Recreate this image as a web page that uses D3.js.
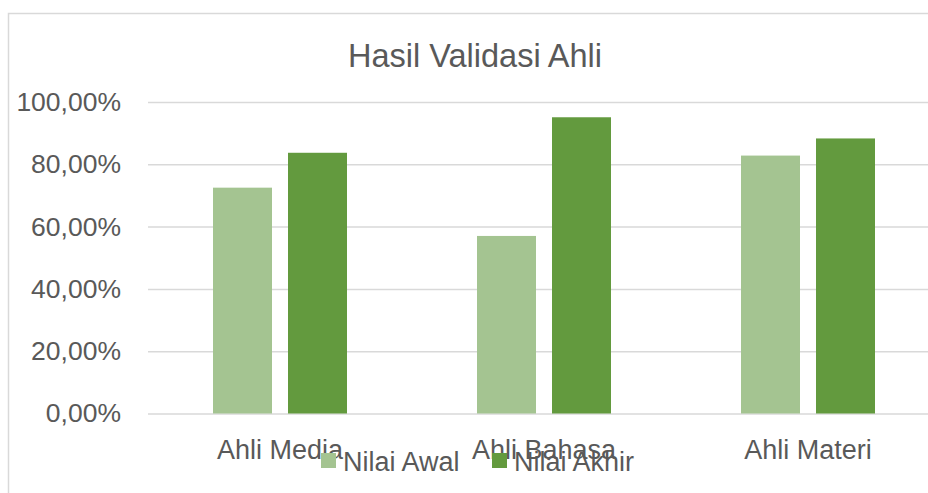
<!DOCTYPE html>
<html>
<head>
<meta charset="utf-8">
<script src="https://cdn.jsdelivr.net/npm/d3@7"></script>
<style>
  html, body { margin: 0; padding: 0; background: #ffffff; }
  svg { display: block; font-family: "Liberation Sans", Arial, sans-serif; }
</style>
</head>
<body>
<svg id="chart" width="928" height="493"></svg>
<script>
// ---- data ----
const categories = ["Ahli Media", "Ahli Bahasa", "Ahli Materi"];
const seriesNames = ["Nilai Awal", "Nilai Akhir"];
const nilaiAwal = [0.725, 0.570, 0.828];
const nilaiAkhir = [0.837, 0.951, 0.883];
const yTicks = [0, 0.2, 0.4, 0.6, 0.8, 1.0];
const titleText = "Hasil Validasi Ahli";

const colors = ["#a4c491", "#639a3e"];
const textColor = "#595959";
const gridColor = "#d9d9d9";

const svg = d3.select("#chart");

// frame
svg.append("rect")
  .attr("x", 8.5).attr("y", 13.5)
  .attr("width", 940).attr("height", 500)
  .attr("fill", "#ffffff")
  .attr("stroke", gridColor).attr("stroke-width", 1.5);

const x0 = d3.scaleBand().domain(categories).range([148, 940]).padding(0);
const x1 = d3.scaleBand().domain(seriesNames)
  .range([65, 199]).paddingInner(16 / 75).paddingOuter(0);
const y = d3.scaleLinear().domain([0, 1]).range([413.5, 102]);

const fmt = v => d3.format(".2f")(v * 100).replace(".", ",") + "%";

// gridlines + y labels via axis
const yAxis = d3.axisLeft(y).tickValues(yTicks).tickFormat(fmt)
  .tickSize(-(940 - 148)).tickPadding(27);
const gy = svg.append("g").attr("transform", "translate(148,0)").call(yAxis);
gy.select(".domain").remove();
gy.selectAll(".tick line").attr("stroke", gridColor).attr("stroke-width", 1.5);
gy.selectAll(".tick text")
  .attr("fill", textColor).attr("font-size", 26.5)
  .attr("font-family", "'Liberation Sans', Arial, sans-serif");

// bars
const rows = categories.map((c, i) => ({ cat: c, vals: [nilaiAwal[i], nilaiAkhir[i]] }));
const groups = svg.append("g").selectAll("g").data(rows).join("g")
  .attr("transform", d => `translate(${x0(d.cat)},0)`);
groups.selectAll("rect")
  .data(d => d.vals.map((v, j) => ({ name: seriesNames[j], v, j })))
  .join("rect")
  .attr("x", d => x1(d.name))
  .attr("width", x1.bandwidth())
  .attr("y", d => y(d.v))
  .attr("height", d => y(0) - y(d.v))
  .attr("fill", d => colors[d.j]);

// x category labels
const xAxis = d3.axisBottom(x0).tickSize(0).tickPadding(0);
const gx = svg.append("g").attr("transform", "translate(0,413.5)").call(xAxis);
gx.select(".domain").remove();
gx.selectAll(".tick text")
  .attr("fill", textColor).attr("font-size", 27)
  .attr("font-family", "'Liberation Sans', Arial, sans-serif")
  .attr("dy", null).attr("y", 45);

// title
svg.append("text")
  .attr("x", 475).attr("y", 67)
  .attr("text-anchor", "middle")
  .attr("fill", textColor)
  .attr("font-size", 32.5)
  .text(titleText);

// legend
const legendX = [321, 492];
const lg = svg.append("g").selectAll("g").data(seriesNames).join("g")
  .attr("transform", (d, i) => `translate(${legendX[i]},453)`);
lg.append("rect").attr("width", 15).attr("height", 15)
  .attr("fill", (d, i) => colors[i]);
lg.append("text").attr("x", 22).attr("y", 18)
  .attr("fill", textColor).attr("font-size", 27)
  .text(d => d);
</script>
</body>
</html>
